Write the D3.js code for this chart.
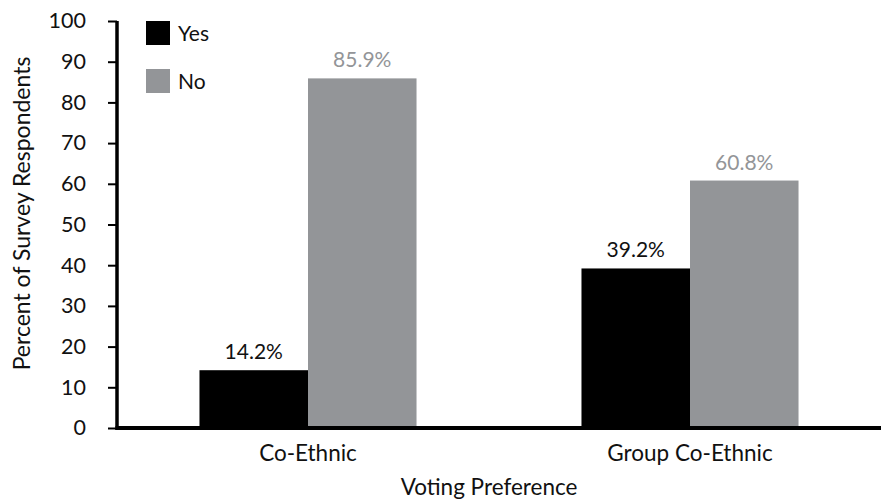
<!DOCTYPE html>
<html>
<head>
<meta charset="utf-8">
<script src="https://cdn.jsdelivr.net/npm/d3@7"></script>
<style>
  html, body { margin: 0; padding: 0; background: #fff; }
  svg text { font-family: "Lato", "Open Sans", sans-serif; }
</style>
</head>
<body>
<svg id="chart" width="883" height="501"></svg>
<script>
const categories = ["Co-Ethnic", "Group Co-Ethnic"];
const seriesNames = ["Yes", "No"];
const yesValues = [14.2, 39.2];
const noValues = [85.9, 60.8];
const yTicks = [0, 10, 20, 30, 40, 50, 60, 70, 80, 90, 100];

const colors = { Yes: "#000000", No: "#939598" };
const labelColors = { Yes: "#111111", No: "#939598" };
const fontFamily = "Lato, 'Open Sans', sans-serif";

const svg = d3.select("#chart");
const plotLeft = 117, plotRight = 881, plotTop = 21, plotBottom = 428;

const x0 = d3.scaleBand().domain(categories).range([plotLeft, plotRight]).padding(0);
const x1 = d3.scaleBand().domain(seriesNames).range([0, x0.bandwidth()])
  .paddingInner(0).paddingOuter(0.76);
const y = d3.scaleLinear().domain([0, 100]).range([plotBottom, plotTop]);

const rows = categories.map((c, i) => ({
  category: c,
  values: [
    { key: "Yes", value: yesValues[i] },
    { key: "No", value: noValues[i] }
  ]
}));

// Bars
const groups = svg.selectAll("g.cat").data(rows).join("g")
  .attr("class", "cat")
  .attr("transform", d => `translate(${x0(d.category)},0)`);

groups.selectAll("rect").data(d => d.values).join("rect")
  .attr("x", d => x1(d.key))
  .attr("y", d => y(d.value))
  .attr("width", x1.bandwidth())
  .attr("height", d => y(0) - y(d.value))
  .attr("fill", d => colors[d.key]);

// Value labels
groups.selectAll("text.val").data(d => d.values).join("text")
  .attr("class", "val")
  .attr("x", d => x1(d.key) + x1.bandwidth() / 2)
  .attr("y", d => y(d.value) - 11)
  .attr("text-anchor", "middle")
  .attr("font-size", 21)
  .attr("fill", d => labelColors[d.key])
  .text(d => d.value.toFixed(1) + "%");

// Y axis
const yAxis = svg.append("g")
  .attr("transform", `translate(${plotLeft},0)`)
  .call(d3.axisLeft(y).tickValues(yTicks).tickSize(9).tickPadding(22).tickFormat(d3.format("d")));
yAxis.select(".domain").attr("stroke", "#000").attr("stroke-width", 3.5)
  .attr("d", `M0,${plotTop}V${plotBottom + 2}`);
yAxis.selectAll(".tick line").attr("stroke", "#000").attr("stroke-width", 2);
yAxis.selectAll(".tick text").attr("font-size", 21.5).attr("fill", "#111")
  .style("font-family", fontFamily);

// X axis
const xAxis = svg.append("g")
  .attr("transform", `translate(0,${plotBottom})`)
  .call(d3.axisBottom(x0).tickSize(0).tickPadding(17));
xAxis.select(".domain").attr("stroke", "#000").attr("stroke-width", 4)
  .attr("d", `M${plotLeft - 1.5},0H${plotRight}`);
xAxis.selectAll(".tick text").attr("font-size", 22.5).attr("fill", "#111")
  .style("font-family", fontFamily);

// Axis titles
svg.append("text")
  .attr("x", 489)
  .attr("y", 495)
  .attr("text-anchor", "middle")
  .attr("font-size", 22.5)
  .attr("fill", "#111")
  .text("Voting Preference");

svg.append("text")
  .attr("transform", `translate(30,213.5) rotate(-90)`)
  .attr("text-anchor", "middle")
  .attr("font-size", 23)
  .attr("fill", "#111")
  .text("Percent of Survey Respondents");

// Legend
const legend = svg.append("g").attr("transform", "translate(146,21)");
const items = legend.selectAll("g").data(seriesNames).join("g")
  .attr("transform", (d, i) => `translate(0,${i * 48})`);
items.append("rect").attr("width", 24).attr("height", 24).attr("fill", d => colors[d]);
items.append("text").attr("x", 32).attr("y", 20)
  .attr("font-size", 21).attr("fill", "#111").text(d => d);
</script>
</body>
</html>
